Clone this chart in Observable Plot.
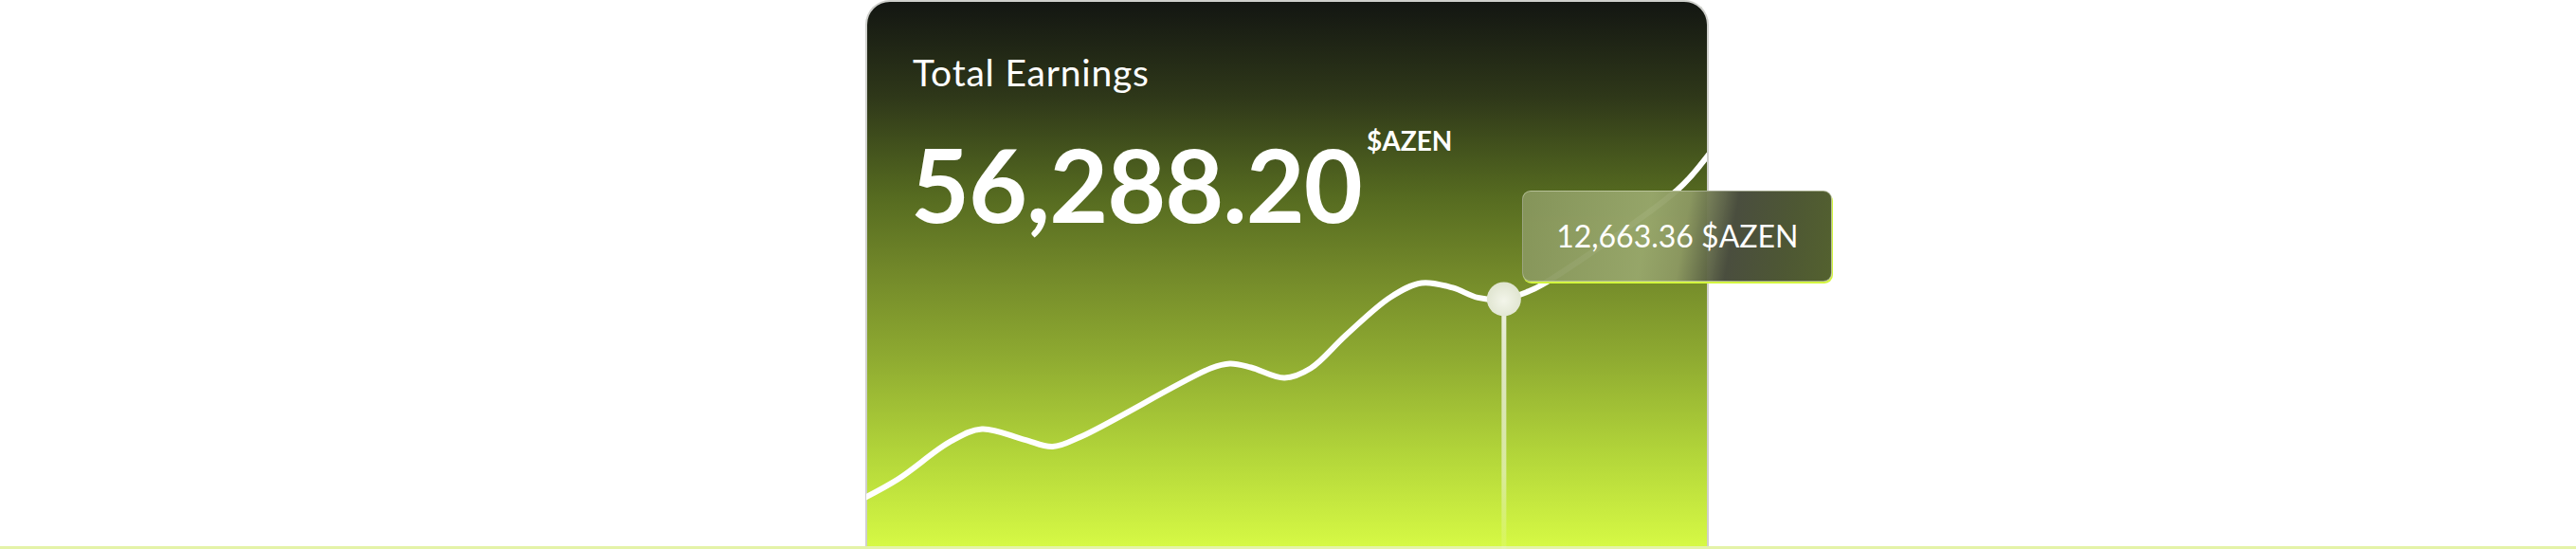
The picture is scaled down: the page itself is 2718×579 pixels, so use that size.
<!DOCTYPE html>
<html>
<head>
<meta charset="utf-8">
<script src="https://cdn.jsdelivr.net/npm/d3@7"></script>
<script src="https://cdn.jsdelivr.net/npm/@observablehq/plot@0.6"></script>
<style>
  html, body { margin: 0; padding: 0; background: #fff; }
  #wrap { position: relative; width: 2718px; height: 579px; overflow: hidden; font-family: Lato, "Noto Sans", sans-serif; }
  #card {
    position: absolute; left: 913px; top: 0; width: 886px; height: 580px;
    border: 2px solid #cfd0cc; border-bottom: none; border-radius: 26px 26px 0 0;
    background: linear-gradient(180deg, #131612 0%, #2e3719 17%, #556a20 35%, #708629 48%, #8fab31 65%, #b4d73a 83%, #d8fb45 100%);
  }
  #baseline { position: absolute; left: 0; right: 0; top: 576px; height: 3px; background: #e4f3a8; }
  .label { position: absolute; color: #fff; white-space: nowrap; }
  #title { left: 963px; top: 53px; font-size: 39px; font-weight: 400; letter-spacing: 0.8px; }
  #total { left: 961px; top: 140px; font-size: 107px; font-weight: 700; letter-spacing: -1px; line-height: 1; }
  #unit { left: 1442px; top: 134px; font-size: 28px; font-weight: 700; line-height: 1; }
  #chart { position: absolute; left: 0; top: 0; }
  #tip {
    position: absolute; width: 327px; height: 96px; border-radius: 9px;
    border: 1px solid rgba(220, 225, 200, 0.55);
    box-shadow: 1px 2px 0 #d3f53f;
    background: linear-gradient(100deg, rgba(135,150,92,0.96) 0%, rgba(152,167,108,0.96) 40%, rgba(140,152,98,0.96) 52%, rgba(68,72,56,0.97) 67%, rgba(72,82,45,0.97) 85%, rgba(78,92,40,0.97) 100%);
    color: #fff; font-size: 32px; font-weight: 400; display: flex; align-items: center; justify-content: center; box-sizing: border-box;
  }
</style>
</head>
<body>
<div id="wrap">
  <div id="card"></div>
  <div id="baseline"></div>
  <div id="chart"></div>
  <div class="label" id="title">Total Earnings</div>
  <div class="label" id="total">56,288.20</div>
  <div class="label" id="unit">$AZEN</div>
  <div id="tip"></div>
</div>
<script>
// earnings path over the period (x = percent of period, value in $AZEN)
const period = [-1, 3.7, 10, 13.7, 18.7, 22.1, 25.5, 40.9, 43.2, 45.7, 49.7, 52.8, 57, 62.3, 66, 69.7, 72.7, 75.8, 78.7, 80.3, 96.4, 99.5, 103.2];
const earnings = [2450, 3550, 5470, 6090, 5560, 5200, 5710, 9160, 9400, 9210, 8680, 9160, 10840, 12760, 13480, 13240, 12740, 12663.36, 13050, 13380, 18180, 19620, 21780];

const hoverAt = 75.8;
const hoverValue = 12663.36;
const hoverLabel = "12,663.36 $AZEN";

const series = period.map((p, i) => ({p, v: earnings[i]}));

const plot = Plot.plot({
  width: 2718,
  height: 579,
  marginLeft: 914,
  marginRight: 917,
  marginTop: 0,
  marginBottom: 0,
  style: {background: "transparent", overflow: "visible"},
  x: {domain: [0, 100], axis: null},
  y: {domain: [0, 27770], axis: null},
  marks: [
    Plot.ruleX([hoverAt], {y1: hoverValue, y2: 0, stroke: "url(#fade)", strokeWidth: 5}),
    Plot.line(series, {x: "p", y: "v", curve: "catmull-rom", stroke: "#ffffff", strokeWidth: 6, clip: true}),
    Plot.dot([hoverAt], {x: d => d, y: () => hoverValue, r: 18, fill: "url(#knob)", stroke: "none"})
  ]
});

const sx = plot.scale("x"), sy = plot.scale("y");

const defs = d3.select(plot).insert("defs", ":first-child");
const fade = defs.append("linearGradient").attr("id", "fade").attr("gradientUnits", "userSpaceOnUse")
  .attr("x1", 0).attr("x2", 0).attr("y1", sy.apply(hoverValue)).attr("y2", sy.apply(0));
fade.append("stop").attr("offset", "0%").attr("stop-color", "#f4f6ea").attr("stop-opacity", 0.95);
fade.append("stop").attr("offset", "70%").attr("stop-color", "#f4f6ea").attr("stop-opacity", 0.55);
fade.append("stop").attr("offset", "100%").attr("stop-color", "#f4f6ea").attr("stop-opacity", 0.1);
const knob = defs.append("radialGradient").attr("id", "knob").attr("cx", "50%").attr("cy", "55%").attr("r", "55%");
knob.append("stop").attr("offset", "0%").attr("stop-color", "#f3f5ea");
knob.append("stop").attr("offset", "100%").attr("stop-color", "#dfe4cf");

document.querySelector("#chart").append(plot);

// tooltip placed from the plot's own scales
const tip = document.querySelector("#tip");
tip.textContent = hoverLabel;
tip.style.left = (sx.apply(hoverAt) + 20) + "px";
tip.style.top = (sy.apply(hoverValue) - 114) + "px";
</script>
</body>
</html>
